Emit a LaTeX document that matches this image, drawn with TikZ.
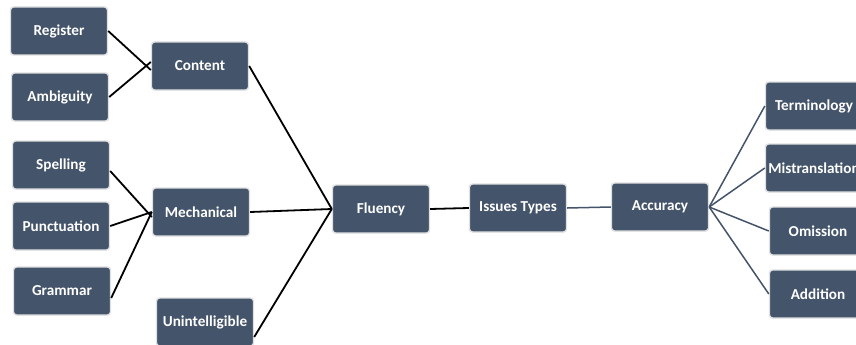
\documentclass[tikz,border=0pt]{standalone}
\usepackage{fontspec}
\setmainfont{Carlito}
\definecolor{slate}{HTML}{44546A}
\begin{document}
\begin{tikzpicture}[x=1pt,y=-1pt,
  box/.style={rectangle, rounded corners=3pt, fill=slate, draw=black!12,
    line width=1.4pt, minimum width=97pt, minimum height=48pt,
    inner sep=0pt, text=white, font=\bfseries\fontsize{15.2}{17}\selectfont},
  dark/.style={line width=1.8pt, black},
  soft/.style={line width=1.5pt, slate}]
\useasboundingbox[fill=white] (0,0) rectangle (856,345);

% fluency branch, leaves
\node[box] (reg)   at (59,31)   {Register};
\node[box] (amb)   at (60,97)   {Ambiguity};
\node[box] (spell) at (61,165)  {Spelling};
\node[box] (punct) at (61,226)  {Punctuation};
\node[box] (gram)  at (62,291)  {Grammar};

% fluency branch, categories
\node[box] (cont)  at (200,66)  {Content};
\node[box] (mech)  at (201,212) {Mechanical};
\node[box] (unint) at (205,322) {Unintelligible};

% spine
\node[box] (flu)   at (381,209) {Fluency};
\node[box] (iss)   at (518,208) {Issues Types};
\node[box] (acc)   at (660,207) {Accuracy};

% accuracy branch
\node[box] (term)  at (814,106) {Terminology};
\node[box] (mis)   at (814,168) {Mistranslation};
\node[box] (omi)   at (818,231) {Omission};
\node[box] (add)   at (818,294) {Addition};

% connectors
\draw[dark] (reg.east)  -- ([yshift=-4pt]cont.west);
\draw[dark] (amb.east)  -- ([yshift=4pt]cont.west);
\draw[dark] ([yshift=-6pt]spell.east) -- ([yshift=-5pt]mech.west);
\draw[dark] (punct.east) -- (mech.west);
\draw[dark] ([yshift=-7pt]gram.east) -- (mech.west);
\draw[dark] (cont.east) -- (flu.west);
\draw[dark] (mech.east) -- (flu.west);
\draw[dark] ([yshift=-15pt]unint.east) -- (flu.west);
\draw[dark] (flu.east) -- (iss.west);
\draw[soft] (iss.east) -- (acc.west);
\draw[soft] (acc.east) -- (term.west);
\draw[soft] (acc.east) -- (mis.west);
\draw[soft] (acc.east) -- (omi.west);
\draw[soft] (acc.east) -- (add.west);
\end{tikzpicture}
\end{document}
